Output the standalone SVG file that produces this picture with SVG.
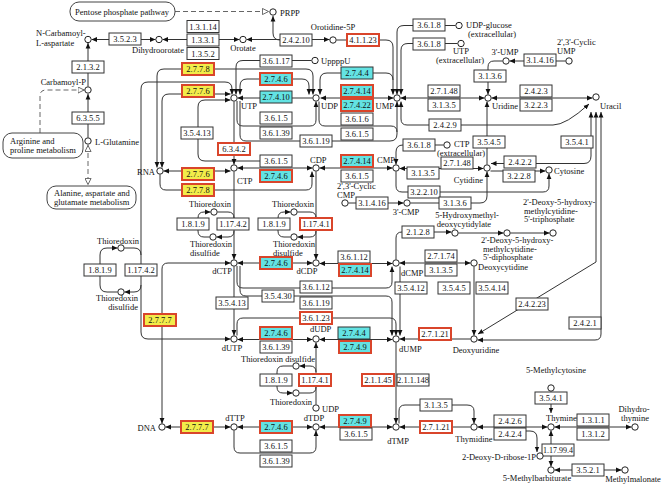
<svg xmlns="http://www.w3.org/2000/svg" width="662" height="488" viewBox="0 0 662 488">
<style>
.bx{fill:#fff;stroke:#333;stroke-width:1}
.rd{fill:#fff;stroke:#d9452b;stroke-width:2}
.cy{fill:#63e3e3;stroke:#333;stroke-width:1}
.cr{fill:#63e3e3;stroke:#d9452b;stroke-width:2}
.yr{fill:#f2ec4a;stroke:#d9452b;stroke-width:2}
text{font-family:"Liberation Serif",serif;font-size:8.5px;fill:#111}
.bt{text-anchor:middle}
.m{text-anchor:middle}
.en{text-anchor:end}
.c{fill:#fff;stroke:#222;stroke-width:1}
.ln{fill:none;stroke:#333;stroke-width:1}
.ds{fill:none;stroke:#666;stroke-width:1;stroke-dasharray:5,3}
.mp{fill:#fff;stroke:#444;stroke-width:1}
.E{marker-end:url(#ah)}
.S{marker-start:url(#ah)}
.OE{marker-end:url(#oh)}
.OS{marker-start:url(#oh)}
</style>
<defs>
<marker id="ah" viewBox="0 0 8 8" refX="8" refY="4" markerWidth="5.5" markerHeight="5.5" markerUnits="userSpaceOnUse" orient="auto-start-reverse"><path d="M0,0.5 L8,4 L0,7.5z" fill="#111"/></marker>
<marker id="oh" viewBox="0 0 8 8" refX="8" refY="4" markerWidth="7" markerHeight="7" markerUnits="userSpaceOnUse" orient="auto-start-reverse"><path d="M0.5,0.5 L7.5,4 L0.5,7.5z" fill="#fff" stroke="#555" stroke-width="1"/></marker>
</defs>
<rect width="662" height="488" fill="#fff"/>

<g id="connectors">
<path class="ds OE" d="M175,11.5 H269"/>
<path class="ln E" d="M280,40 Q273,40 273,33 V16"/>
<path class="ln E S" d="M246.5,39.5 H329.5"/>
<path class="ln E S" d="M162.5,39.5 H239.5"/>
<path class="ln E S" d="M91.5,39.5 H155.5"/>
<path class="ln E" d="M88,86.5 V43"/>
<path class="ln E" d="M88,137.5 V94"/>
<path class="ds OE" d="M40,133 V96 Q40,90 46,90 H84.5"/>
<path class="ds OE OS" d="M88,145 V185"/>
<path class="ln E" d="M336.5,40 H386 Q393,40 393,47 V94.5"/>
<path class="ln E" d="M455.5,25.5 H404 Q397,25.5 397,32 V94.5"/>
<path class="ln E" d="M457.5,43.5 H408 Q401,43.5 401,50 V94.5"/>
<path class="ln S" d="M320,94.5 V80 Q320,73 327,73 H386 Q393,73 393,80"/>
<path class="ln E S" d="M320.5,98 H393.5"/>
<path class="ln E" d="M312.5,98 H237.5"/>
<path class="ln E S" d="M240,94.5 V86 Q240,79 247,79 H302 Q309,79 309,86 V94.5"/>
<path class="ln E" d="M311.5,60.5 H243 Q236,60.5 236,67 V94.5"/>
<path class="ln E S" d="M232,94.5 V89 Q232,82 225,82 H148 Q141,82 141,89 V332 Q141,339 148,339 H230.5"/>
<path class="ln E S" d="M313,94.5 V76 Q313,69 306,69 H164 Q157,69 157,76 V167.5"/>
<path class="ln E S" d="M230.5,94 H169 Q162,94 162,101 V167.5"/>
<path class="ln E" d="M292,161 H205 Q198,161 198,154 V107 Q198,100 205,100 H230.5"/>
<path class="ln E" d="M234,101.5 V164.5"/>
<path class="ln E" d="M237,101 V120 Q237,126 243,126 H310 Q316,126 316,120 V101.5"/>
<path class="ln" d="M319,101.5 V120 Q319,126 325,126 H391 Q397,126 397,132"/>
<path class="ln E" d="M240,101 V135 Q240,141 246,141 H390 Q397,141 397,134 V101.5"/>
<path class="ln E S" d="M401,101.5 V119 Q401,125 407,125 H553 Q566,125 589,104"/>
<path class="ln E S" d="M400.5,98 H484.5"/>
<path class="ln E S" d="M491.5,98 H592.5"/>
<path class="ln E" d="M502.5,61 H494 Q488,61 488,67 V94.5"/>
<path class="ln E" d="M565.5,61 H509.5"/>
<path class="ln E" d="M487,164.5 V101.5"/>
<path class="ln E S" d="M491,163.5 H584 Q591,163.5 591,156 V112"/>
<path class="ln E S" d="M596,112 V262 L478,334"/>
<path class="ln E S" d="M601,112 V334 Q601,340 595,340 H477.5"/>
<path class="ln E S" d="M163.5,171 H230.5"/>
<path class="ln E" d="M160,174.5 V184 Q160,190 166,190 H306 Q312,190 312,184 V171.5"/>
<path class="ln E S" d="M237.5,168 H312.5"/>
<path class="ln E S" d="M319.5,168 H392.5"/>
<path class="ln E S" d="M399.5,168.5 H483.5"/>
<path class="ln E" d="M443.5,145 H403 Q396,145 396,152 V164.5"/>
<path class="ln E" d="M396,171.5 V186 Q396,192 402,192 H543 Q549,192 549,186 V173.5"/>
<path class="ln E" d="M410.5,203 H480 Q487,203 487,196 V171.5"/>
<path class="ln E" d="M348.5,203 H403.5"/>
<path class="ln E" d="M490.5,171 H545.5"/>
<path class="ln E" d="M117.5,292 H107 Q100,292 100,285 V255 Q100,248 107,248 H117.5"/>
<path class="ln" d="M124.5,248 H134 Q141,248 141,255"/>
<path class="ln E" d="M141,285 Q141,292 134,292 H124.5"/>
<path class="ln E" d="M209.5,237 H204 Q198,237 198,231 V218 Q198,212 204,212 H210.5"/>
<path class="ln" d="M217.5,212 H228 Q234,212 234,218"/>
<path class="ln E" d="M234,231 Q234,237 228,237 H216.5"/>
<path class="ln E" d="M290.5,237 H284 Q278,237 278,231 V218 Q278,212 284,212 H290.5"/>
<path class="ln" d="M297.5,212 H310 Q316,212 316,218"/>
<path class="ln E" d="M316,231 Q316,237 310,237 H297.5"/>
<path class="ln E" d="M234,171.5 V259.5"/>
<path class="ln E" d="M316,171.5 V259.5"/>
<path class="ln E" d="M316,404.5 V342.5"/>
<path class="ln E" d="M292.5,366 H283 Q277,366 277,372 V387 Q277,393 283,393 H292.5"/>
<path class="ln" d="M316,387 Q316,393 310,393 H299.5"/>
<path class="ln E" d="M316,372 Q316,366 310,366 H299.5"/>
<path class="ln E S" d="M237.5,263 H312.5"/>
<path class="ln E S" d="M319.5,263.5 H392.5"/>
<path class="ln E S" d="M399.5,263 H470.5"/>
<path class="ln E" d="M396,259.5 V238 Q396,232 402,232 H451.5"/>
<path class="ln E" d="M458.5,233 H503.5"/>
<path class="ln E" d="M510.5,233 H549.5"/>
<path class="ln E" d="M474,266.5 V335.5"/>
<path class="ln E S" d="M230.5,263 H168 Q162,263 162,269 V423.5"/>
<path class="ln E" d="M234,266.5 V335.5"/>
<path class="ln E" d="M237,266 V282 Q237,288 243,288 H386 Q392,288 392,282 V266.5"/>
<path class="ln E" d="M240,266 V290 Q240,296 246,296 H386 Q392,296 392,302 V335.5"/>
<path class="ln E" d="M237,335.5 V324 Q237,318 243,318 H390 Q396,318 396,324 V335.5"/>
<path class="ln E" d="M400,266.5 V335.5"/>
<path class="ln E S" d="M237.5,339.5 H312.5"/>
<path class="ln E S" d="M319.5,339.5 H392.5"/>
<path class="ln E" d="M470.5,339 H399.5"/>
<path class="ln E" d="M396,342.5 V423.5"/>
<path class="ln E S" d="M165.5,427 H230.5"/>
<path class="ln E S" d="M237.5,427 H312.5"/>
<path class="ln E" d="M234,430.5 V447 Q234,453 240,453 H310 Q316,453 316,447 V430.5"/>
<path class="ln E S" d="M319.5,427 H392.5"/>
<path class="ln E" d="M470.5,427 H399.5"/>
<path class="ln E" d="M399,423.5 V411 Q399,405 405,405 H467 Q474,405 474,411 V423.5"/>
<path class="ln E S" d="M477.5,427 H547.5"/>
<path class="ln E" d="M524,431 H530 Q537,431 537,438 V452"/>
<path class="ln E S" d="M551,391.5 V413"/>
<path class="ln E S" d="M554.5,427 H631.5"/>
<path class="ln E S" d="M551,430.5 V466.5"/>
<path class="ln E S" d="M554.5,470 H621.5"/>
</g>

<g id="map_pentose"><rect class="mp" x="70" y="2" width="105" height="19" rx="9"/><text class="m" x="122" y="14.5">Pentose phosphate pathway</text></g>
<g id="map_arginine"><rect class="mp" x="3" y="133" width="80" height="25" rx="9"/><text x="10" y="144">Arginine and</text><text x="10" y="153">proline metabolism</text></g>
<g id="map_alanine"><rect class="mp" x="47" y="186" width="89" height="23" rx="9"/><text x="54" y="196">Alanine, aspartate and</text><text x="54" y="205">glutamate metabolism</text></g>

<g id="enzymes">
<g id="e1"><rect class="bx" x="187" y="20.5" width="32" height="12"/><text class="bt" x="203" y="29.5">1.3.1.14</text></g>
<g id="e2"><rect class="bx" x="187" y="34" width="32" height="12"/><text class="bt" x="203" y="43">1.3.3.1</text></g>
<g id="e3"><rect class="bx" x="187" y="47.5" width="32" height="12"/><text class="bt" x="203" y="56.5">1.3.5.2</text></g>
<g id="e4"><rect class="bx" x="109" y="33" width="32" height="12"/><text class="bt" x="125" y="42">3.5.2.3</text></g>
<g id="e5"><rect class="bx" x="72" y="61" width="32" height="12"/><text class="bt" x="88" y="70">2.1.3.2</text></g>
<g id="e6"><rect class="bx" x="72" y="112" width="32" height="12"/><text class="bt" x="88" y="121">6.3.5.5</text></g>
<g id="e7"><rect class="bx" x="280" y="34" width="32" height="12"/><text class="bt" x="296" y="43">2.4.2.10</text></g>
<g id="e8"><rect class="rd" x="347" y="34" width="32" height="12"/><text class="bt" x="363" y="43">4.1.1.23</text></g>
<g id="e9"><rect class="bx" x="413" y="19" width="32" height="12"/><text class="bt" x="429" y="28">3.6.1.8</text></g>
<g id="e10"><rect class="bx" x="413" y="38" width="32" height="12"/><text class="bt" x="429" y="47">3.6.1.8</text></g>
<g id="e11"><rect class="bx" x="524" y="54" width="32" height="12"/><text class="bt" x="540" y="63">3.1.4.16</text></g>
<g id="e12"><rect class="bx" x="474" y="70" width="32" height="12"/><text class="bt" x="490" y="79">3.1.3.6</text></g>
<g id="e13"><rect class="yr" x="182" y="63" width="32" height="12"/><text class="bt" x="198" y="72">2.7.7.8</text></g>
<g id="e14"><rect class="yr" x="182" y="85" width="32" height="12"/><text class="bt" x="198" y="94">2.7.7.6</text></g>
<g id="e15"><rect class="bx" x="260" y="55" width="32" height="12"/><text class="bt" x="276" y="64">3.6.1.17</text></g>
<g id="e16"><rect class="cr" x="260" y="73" width="32" height="12"/><text class="bt" x="276" y="82">2.7.4.6</text></g>
<g id="e17"><rect class="cy" x="260" y="91" width="32" height="12"/><text class="bt" x="276" y="100">2.7.4.10</text></g>
<g id="e18"><rect class="bx" x="260" y="112" width="32" height="12"/><text class="bt" x="276" y="121">3.6.1.5</text></g>
<g id="e19"><rect class="bx" x="260" y="127" width="32" height="12"/><text class="bt" x="276" y="136">3.6.1.39</text></g>
<g id="e20"><rect class="bx" x="300" y="135" width="32" height="12"/><text class="bt" x="316" y="144">3.6.1.19</text></g>
<g id="e21"><rect class="bx" x="181" y="127" width="32" height="12"/><text class="bt" x="197" y="136">3.5.4.13</text></g>
<g id="e22"><rect class="rd" x="218" y="143" width="32" height="12"/><text class="bt" x="234" y="152">6.3.4.2</text></g>
<g id="e23"><rect class="cy" x="341" y="67" width="32" height="12"/><text class="bt" x="357" y="76">2.7.4.4</text></g>
<g id="e24"><rect class="cr" x="341" y="85" width="32" height="12"/><text class="bt" x="357" y="94">2.7.4.14</text></g>
<g id="e25"><rect class="cr" x="341" y="99" width="32" height="12"/><text class="bt" x="357" y="108">2.7.4.22</text></g>
<g id="e26"><rect class="bx" x="341" y="113" width="32" height="12"/><text class="bt" x="357" y="122">3.6.1.6</text></g>
<g id="e27"><rect class="bx" x="341" y="128" width="32" height="12"/><text class="bt" x="357" y="137">3.6.1.5</text></g>
<g id="e28"><rect class="bx" x="428" y="85" width="32" height="12"/><text class="bt" x="444" y="94">2.7.1.48</text></g>
<g id="e29"><rect class="bx" x="428" y="99" width="32" height="12"/><text class="bt" x="444" y="108">3.1.3.5</text></g>
<g id="e30"><rect class="bx" x="429" y="119" width="32" height="12"/><text class="bt" x="445" y="128">2.4.2.9</text></g>
<g id="e31"><rect class="bx" x="520" y="85" width="32" height="12"/><text class="bt" x="536" y="94">2.4.2.3</text></g>
<g id="e32"><rect class="bx" x="520" y="99" width="32" height="12"/><text class="bt" x="536" y="108">3.2.2.3</text></g>
<g id="e33"><rect class="bx" x="561" y="136" width="32" height="12"/><text class="bt" x="577" y="145">3.5.4.1</text></g>
<g id="e34"><rect class="bx" x="473" y="136" width="32" height="12"/><text class="bt" x="489" y="145">3.5.4.5</text></g>
<g id="e35"><rect class="bx" x="403" y="139" width="32" height="12"/><text class="bt" x="419" y="148">3.6.1.8</text></g>
<g id="e36"><rect class="bx" x="260" y="155" width="32" height="12"/><text class="bt" x="276" y="164">3.6.1.5</text></g>
<g id="e37"><rect class="cr" x="260" y="170" width="32" height="12"/><text class="bt" x="276" y="179">2.7.4.6</text></g>
<g id="e38"><rect class="yr" x="182" y="168" width="32" height="12"/><text class="bt" x="198" y="177">2.7.7.6</text></g>
<g id="e39"><rect class="yr" x="182" y="184" width="32" height="12"/><text class="bt" x="198" y="193">2.7.7.8</text></g>
<g id="e40"><rect class="cr" x="341" y="155" width="32" height="12"/><text class="bt" x="357" y="164">2.7.4.14</text></g>
<g id="e41"><rect class="bx" x="341" y="170" width="32" height="12"/><text class="bt" x="357" y="179">3.6.1.5</text></g>
<g id="e42"><rect class="bx" x="441" y="157" width="32" height="12"/><text class="bt" x="457" y="166">2.7.1.48</text></g>
<g id="e43"><rect class="bx" x="407" y="167" width="32" height="12"/><text class="bt" x="423" y="176">3.1.3.5</text></g>
<g id="e44"><rect class="bx" x="504" y="156" width="32" height="12"/><text class="bt" x="520" y="165">2.4.2.2</text></g>
<g id="e45"><rect class="bx" x="503" y="170" width="32" height="12"/><text class="bt" x="519" y="179">3.2.2.8</text></g>
<g id="e46"><rect class="bx" x="408" y="186" width="32" height="12"/><text class="bt" x="424" y="195">3.2.2.10</text></g>
<g id="e47"><rect class="bx" x="356" y="197" width="32" height="12"/><text class="bt" x="372" y="206">3.1.4.16</text></g>
<g id="e48"><rect class="bx" x="439" y="197" width="32" height="12"/><text class="bt" x="455" y="206">3.1.3.6</text></g>
<g id="e49"><rect class="bx" x="84" y="264" width="32" height="12"/><text class="bt" x="100" y="273">1.8.1.9</text></g>
<g id="e50"><rect class="bx" x="125" y="264" width="32" height="12"/><text class="bt" x="141" y="273">1.17.4.2</text></g>
<g id="e51"><rect class="bx" x="177" y="218" width="32" height="12"/><text class="bt" x="193" y="227">1.8.1.9</text></g>
<g id="e52"><rect class="bx" x="217" y="218" width="32" height="12"/><text class="bt" x="233" y="227">1.17.4.2</text></g>
<g id="e53"><rect class="bx" x="258" y="218" width="32" height="12"/><text class="bt" x="274" y="227">1.8.1.9</text></g>
<g id="e54"><rect class="rd" x="300" y="218" width="32" height="12"/><text class="bt" x="316" y="227">1.17.4.1</text></g>
<g id="e55"><rect class="bx" x="402" y="226" width="32" height="12"/><text class="bt" x="418" y="235">2.1.2.8</text></g>
<g id="e56"><rect class="cr" x="260" y="257" width="32" height="12"/><text class="bt" x="276" y="266">2.7.4.6</text></g>
<g id="e57"><rect class="bx" x="338" y="251" width="32" height="12"/><text class="bt" x="354" y="260">3.6.1.12</text></g>
<g id="e58"><rect class="cr" x="339" y="264" width="32" height="12"/><text class="bt" x="355" y="273">2.7.4.14</text></g>
<g id="e59"><rect class="bx" x="425" y="250" width="32" height="12"/><text class="bt" x="441" y="259">2.7.1.74</text></g>
<g id="e60"><rect class="bx" x="425" y="264" width="32" height="12"/><text class="bt" x="441" y="273">3.1.3.5</text></g>
<g id="e61"><rect class="bx" x="300" y="281" width="32" height="12"/><text class="bt" x="316" y="290">3.6.1.12</text></g>
<g id="e62"><rect class="bx" x="262" y="290" width="32" height="12"/><text class="bt" x="278" y="299">3.5.4.30</text></g>
<g id="e63"><rect class="bx" x="300" y="297" width="32" height="12"/><text class="bt" x="316" y="306">3.6.1.19</text></g>
<g id="e64"><rect class="bx" x="216" y="297" width="32" height="12"/><text class="bt" x="232" y="306">3.5.4.13</text></g>
<g id="e65"><rect class="rd" x="300" y="312" width="32" height="12"/><text class="bt" x="316" y="321">3.6.1.23</text></g>
<g id="e66"><rect class="bx" x="395" y="282" width="32" height="12"/><text class="bt" x="411" y="291">3.5.4.12</text></g>
<g id="e67"><rect class="bx" x="438" y="282" width="32" height="12"/><text class="bt" x="454" y="291">3.5.4.5</text></g>
<g id="e68"><rect class="bx" x="476" y="282" width="32" height="12"/><text class="bt" x="492" y="291">3.5.4.14</text></g>
<g id="e69"><rect class="bx" x="516" y="298" width="32" height="12"/><text class="bt" x="532" y="307">2.4.2.23</text></g>
<g id="e70"><rect class="bx" x="569" y="317" width="32" height="12"/><text class="bt" x="585" y="326">2.4.2.1</text></g>
<g id="e71"><rect class="yr" x="144" y="314" width="32" height="12"/><text class="bt" x="160" y="323">2.7.7.7</text></g>
<g id="e72"><rect class="cr" x="260" y="327" width="32" height="12"/><text class="bt" x="276" y="336">2.7.4.6</text></g>
<g id="e73"><rect class="bx" x="260" y="341" width="32" height="12"/><text class="bt" x="276" y="350">3.6.1.39</text></g>
<g id="e74"><rect class="cy" x="338" y="327" width="32" height="12"/><text class="bt" x="354" y="336">2.7.4.4</text></g>
<g id="e75"><rect class="cr" x="339" y="341" width="32" height="12"/><text class="bt" x="355" y="350">2.7.4.9</text></g>
<g id="e76"><rect class="rd" x="419" y="328" width="32" height="12"/><text class="bt" x="435" y="337">2.7.1.21</text></g>
<g id="e77"><rect class="bx" x="260" y="374" width="32" height="12"/><text class="bt" x="276" y="383">1.8.1.9</text></g>
<g id="e78"><rect class="rd" x="299" y="374" width="32" height="12"/><text class="bt" x="315" y="383">1.17.4.1</text></g>
<g id="e79"><rect class="rd" x="362" y="374" width="32" height="12"/><text class="bt" x="378" y="383">2.1.1.45</text></g>
<g id="e80"><rect class="bx" x="397" y="374" width="32" height="12"/><text class="bt" x="413" y="383">2.1.1.148</text></g>
<g id="e81"><rect class="yr" x="181" y="421" width="32" height="12"/><text class="bt" x="197" y="430">2.7.7.7</text></g>
<g id="e82"><rect class="cr" x="260" y="421" width="32" height="12"/><text class="bt" x="276" y="430">2.7.4.6</text></g>
<g id="e83"><rect class="bx" x="260" y="440" width="32" height="12"/><text class="bt" x="276" y="449">3.6.1.5</text></g>
<g id="e84"><rect class="bx" x="260" y="455" width="32" height="12"/><text class="bt" x="276" y="464">3.6.1.39</text></g>
<g id="e85"><rect class="cr" x="339" y="415" width="32" height="12"/><text class="bt" x="355" y="424">2.7.4.9</text></g>
<g id="e86"><rect class="bx" x="340" y="428" width="32" height="12"/><text class="bt" x="356" y="437">3.6.1.5</text></g>
<g id="e87"><rect class="bx" x="420" y="399" width="32" height="12"/><text class="bt" x="436" y="408">3.1.3.5</text></g>
<g id="e88"><rect class="rd" x="420" y="421" width="32" height="12"/><text class="bt" x="436" y="430">2.7.1.21</text></g>
<g id="e89"><rect class="bx" x="535" y="392" width="32" height="12"/><text class="bt" x="551" y="401">3.5.4.1</text></g>
<g id="e90"><rect class="bx" x="494" y="415" width="32" height="12"/><text class="bt" x="510" y="424">2.4.2.6</text></g>
<g id="e91"><rect class="bx" x="494" y="428" width="32" height="12"/><text class="bt" x="510" y="437">2.4.2.4</text></g>
<g id="e92"><rect class="bx" x="577" y="414" width="32" height="12"/><text class="bt" x="593" y="423">1.3.1.1</text></g>
<g id="e93"><rect class="bx" x="577" y="428" width="32" height="12"/><text class="bt" x="593" y="437">1.3.1.2</text></g>
<g id="e94"><rect class="bx" x="542" y="444" width="32" height="12"/><text class="bt" x="558" y="453" textLength="30" lengthAdjust="spacingAndGlyphs">1.17.99.4</text></g>
<g id="e95"><rect class="bx" x="572" y="464" width="32" height="12"/><text class="bt" x="588" y="473">3.5.2.1</text></g>
</g>

<g id="compounds">
<g id="c_prpp"><circle class="c" cx="273" cy="12" r="3.2"/><text x="280" y="15.5">PRPP</text></g>
<g id="c_orotate"><circle class="c" cx="243" cy="39.5" r="3.2"/><text class="m" x="243" y="51">Orotate</text></g>
<g id="c_orotidine"><circle class="c" cx="333" cy="40" r="3.2"/><text class="m" x="333" y="30">Orotidine-5P</text></g>
<g id="c_dho"><circle class="c" cx="159" cy="39.5" r="3.2"/><text class="m" x="158" y="53">Dihydroorotate</text></g>
<g id="c_ncla"><circle class="c" cx="88" cy="39.5" r="3.2"/><text x="36" y="36">N-Carbamoyl-</text><text x="36" y="46">L-aspartate</text></g>
<g id="c_carbp"><circle class="c" cx="88" cy="90" r="3.2"/><text class="en" x="86" y="85">Carbamoyl-P</text></g>
<g id="c_lgln"><circle class="c" cx="88" cy="141" r="3.2"/><text x="95" y="145">L-Glutamine</text></g>
<g id="c_utp"><circle class="c" cx="234" cy="98" r="3.2"/><text x="241" y="109">UTP</text></g>
<g id="c_udp"><circle class="c" cx="316" cy="98" r="3.2"/><text x="321" y="109">UDP</text></g>
<g id="c_uppppu"><circle class="c" cx="315" cy="60.5" r="3.2"/><text x="321" y="64">UppppU</text></g>
<g id="c_ump"><circle class="c" cx="397" cy="98" r="3.2"/><text class="en" x="394" y="109">UMP</text></g>
<g id="c_udpglc"><circle class="c" cx="459" cy="25.5" r="3.2"/><text x="466" y="28">UDP-glucose</text><text x="468" y="37">(extracellular)</text></g>
<g id="c_utpext"><circle class="c" cx="461" cy="43.5" r="3.2"/><text class="m" x="461" y="54">UTP</text><text class="m" x="460" y="63">(extracellular)</text></g>
<g id="c_uridine"><circle class="c" cx="488" cy="98" r="3.2"/><text x="492" y="109">Uridine</text></g>
<g id="c_3ump"><circle class="c" cx="506" cy="61" r="3.2"/><text class="m" x="505" y="55">3'-UMP</text></g>
<g id="c_cump"><circle class="c" cx="569" cy="61" r="3.2"/><text x="557" y="45">2',3'-Cyclic</text><text x="557" y="54">UMP</text></g>
<g id="c_uracil"><circle class="c" cx="596" cy="97" r="3.2"/><text x="600" y="109">Uracil</text></g>
<g id="c_rna"><circle class="c" cx="160" cy="171" r="3.2"/><text class="en" x="155" y="175">RNA</text></g>
<g id="c_ctp"><circle class="c" cx="234" cy="168" r="3.2"/><text x="237" y="184">CTP</text></g>
<g id="c_cdp"><circle class="c" cx="316" cy="168" r="3.2"/><text x="310" y="163">CDP</text></g>
<g id="c_cmp"><circle class="c" cx="396" cy="168" r="3.2"/><text class="en" x="395" y="163">CMP</text></g>
<g id="c_cytidine"><circle class="c" cx="487" cy="168" r="3.2"/><text class="en" x="483" y="183">Cytidine</text></g>
<g id="c_cytosine"><circle class="c" cx="549" cy="170" r="3.2"/><text x="554" y="174">Cytosine</text></g>
<g id="c_ctpext"><circle class="c" cx="447" cy="145" r="3.2"/><text x="454" y="147">CTP</text><text x="437" y="156">(extracellular)</text></g>
<g id="c_ccmp"><circle class="c" cx="345" cy="203" r="3.2"/><text x="337" y="189">2',3'-Cyclic</text><text x="337" y="198">CMP</text></g>
<g id="c_3cmp"><circle class="c" cx="407" cy="203" r="3.2"/><text class="m" x="406" y="215">3'-CMP</text></g>
<g id="c_trx1"><circle class="c" cx="121" cy="248" r="3.2"/><text class="m" x="118" y="244">Thioredoxin</text></g>
<g id="c_trxss1"><circle class="c" cx="121" cy="292" r="3.2"/><text class="en" x="138" y="301">Thioredoxin</text><text class="en" x="138" y="310">disulfide</text></g>
<g id="c_trx2"><circle class="c" cx="214" cy="212" r="3.2"/><text class="m" x="210" y="207">Thioredoxin</text></g>
<g id="c_trxss2"><circle class="c" cx="213" cy="237" r="3.2"/><text x="190" y="247">Thioredoxin</text><text x="190" y="256">disulfide</text></g>
<g id="c_trx3"><circle class="c" cx="294" cy="212" r="3.2"/><text class="m" x="293" y="207">Thioredoxin</text></g>
<g id="c_trxss3"><circle class="c" cx="294" cy="237" r="3.2"/><text x="273" y="247">Thioredoxin</text><text x="273" y="256">disulfide</text></g>
<g id="c_dctp"><circle class="c" cx="234" cy="263" r="3.2"/><text class="en" x="232" y="274">dCTP</text></g>
<g id="c_dcdp"><circle class="c" cx="316" cy="263" r="3.2"/><text class="m" x="307" y="274">dCDP</text></g>
<g id="c_dcmp"><circle class="c" cx="396" cy="263" r="3.2"/><text x="401" y="276">dCMP</text></g>
<g id="c_hmdcmp"><circle class="c" cx="455" cy="233" r="3.2"/><text class="m" x="467" y="218">5-Hydroxymethyl-</text><text class="m" x="464" y="227">deoxycytidylate</text></g>
<g id="c_hmdcdp"><circle class="c" cx="507" cy="233" r="3.2"/><text x="481" y="243">2'-Deoxy-5-hydroxy-</text><text x="483" y="251.5">methylcytidine-</text><text x="483" y="260">5'-diphosphate</text></g>
<g id="c_hmdctp"><circle class="c" cx="553" cy="233" r="3.2"/><text x="523" y="205">2'-Deoxy-5-hydroxy-</text><text x="524" y="213.5">methylcytidine-</text><text x="524" y="222">5'-triphosphate</text></g>
<g id="c_dcyd"><circle class="c" cx="474" cy="263" r="3.2"/><text x="478" y="270">Deoxycytidine</text></g>
<g id="c_dutp"><circle class="c" cx="234" cy="339" r="3.2"/><text class="m" x="232" y="351">dUTP</text></g>
<g id="c_dudp"><circle class="c" cx="316" cy="339" r="3.2"/><text x="310" y="332">dUDP</text></g>
<g id="c_dump"><circle class="c" cx="396" cy="339" r="3.2"/><text x="399" y="352">dUMP</text></g>
<g id="c_durd"><circle class="c" cx="474" cy="339" r="3.2"/><text class="m" x="476" y="353">Deoxyuridine</text></g>
<g id="c_trxss4"><circle class="c" cx="296" cy="366" r="3.2"/><text class="m" x="278" y="362">Thioredoxin disulfide</text></g>
<g id="c_trx4"><circle class="c" cx="296" cy="393" r="3.2"/><text class="m" x="291" y="405">Thioredoxin</text></g>
<g id="c_udp2"><circle class="c" cx="316" cy="408" r="3.2"/><text x="322" y="412">UDP</text></g>
<g id="c_dna"><circle class="c" cx="162" cy="427" r="3.2"/><text class="en" x="156" y="431">DNA</text></g>
<g id="c_dttp"><circle class="c" cx="234" cy="427" r="3.2"/><text class="m" x="235" y="421">dTTP</text></g>
<g id="c_dtdp"><circle class="c" cx="316" cy="427" r="3.2"/><text class="m" x="314" y="421">dTDP</text></g>
<g id="c_dtmp"><circle class="c" cx="396" cy="427" r="3.2"/><text class="m" x="398" y="444">dTMP</text></g>
<g id="c_thymidine"><circle class="c" cx="474" cy="427" r="3.2"/><text class="m" x="474" y="442">Thymidine</text></g>
<g id="c_dr1p"><circle class="c" cx="540" cy="456" r="3.2"/><text class="en" x="536" y="460">2-Deoxy-D-ribose-1P</text></g>
<g id="c_5mc"><circle class="c" cx="551" cy="388" r="3.2"/><text class="m" x="556" y="373">5-Methylcytosine</text></g>
<g id="c_thymine"><circle class="c" cx="551" cy="427" r="3.2"/><text x="546" y="421">Thymine</text></g>
<g id="c_dht"><circle class="c" cx="635" cy="427" r="3.2"/><text class="m" x="634" y="412">Dihydro-</text><text class="m" x="635" y="421">thymine</text></g>
<g id="c_5mb"><circle class="c" cx="551" cy="470" r="3.2"/><text class="m" x="537" y="481">5-Methylbarbiturate</text></g>
<g id="c_mm"><circle class="c" cx="625" cy="470" r="3.2"/><text class="m" x="633" y="482">Methylmalonate</text></g>
</g>
</svg>
